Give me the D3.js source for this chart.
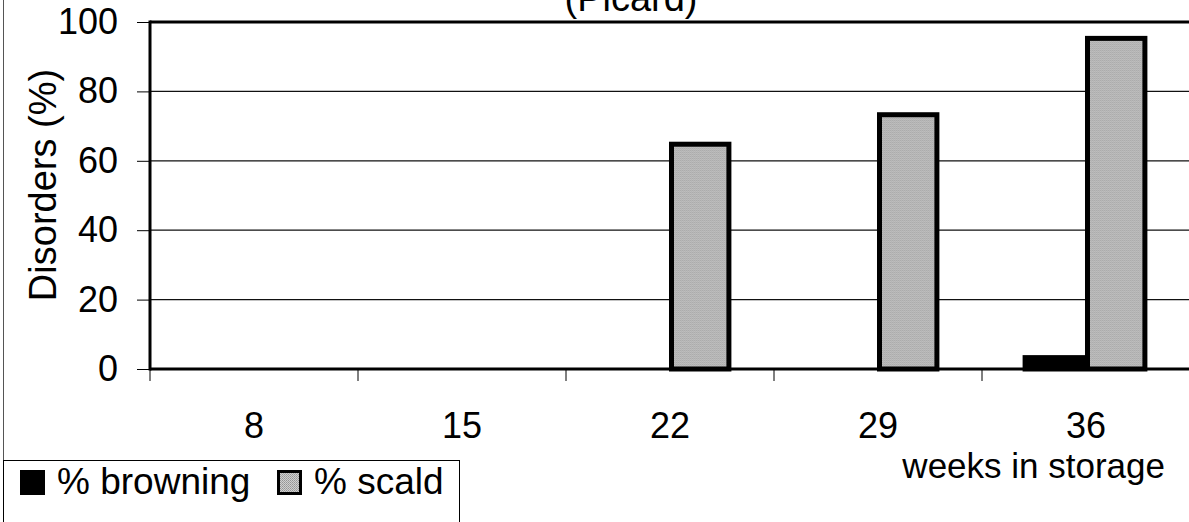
<!DOCTYPE html>
<html>
<head>
<meta charset="utf-8">
<script src="https://cdn.jsdelivr.net/npm/d3@7"></script>
<style>
  body { margin: 0; background: #fff; }
  svg { display: block; font-family: "Liberation Sans", Arial, sans-serif; }
</style>
</head>
<body>
<div id="chart"></div>
<script>
// chart values
const weeks = ['8', '15', '22', '29', '36'];
const seriesNames = ['% browning', '% scald'];
const browning = [0, 0, 0, 0, 4];
const scald = [0, 0, 65.5, 74, 96];
const yTicks = [0, 20, 40, 60, 80, 100];

const width = 1189, height = 522;
const margin = {top: 22, right: -1, bottom: 153, left: 150};
const plotW = width - margin.left - margin.right;
const plotH = height - margin.top - margin.bottom;

const svg = d3.select('#chart').append('svg')
    .attr('width', width)
    .attr('height', height);

// stippled grey fill like the scanned print
const defs = svg.append('defs');
const pat = defs.append('pattern')
    .attr('id', 'stipple')
    .attr('width', 2).attr('height', 2)
    .attr('patternUnits', 'userSpaceOnUse');
pat.append('rect').attr('width', 2).attr('height', 2).attr('fill', '#cfcfcf');
pat.append('rect').attr('width', 1).attr('height', 1).attr('fill', '#949494');
pat.append('rect').attr('x', 1).attr('y', 1).attr('width', 1).attr('height', 1).attr('fill', '#a4a4a4');

const colors = {'% browning': '#000', '% scald': 'url(#stipple)'};

// outer frame line on the left
svg.append('line')
    .attr('x1', 3.5).attr('x2', 3.5)
    .attr('y1', 0).attr('y2', height)
    .attr('stroke', '#555').attr('stroke-width', 1);

const g = svg.append('g')
    .attr('transform', 'translate(' + margin.left + ',' + margin.top + ')');

const xScale = d3.scaleBand().domain(weeks).range([0, plotW]).paddingInner(0.4).paddingOuter(0.2);
const xSub = d3.scaleBand().domain(seriesNames).range([0, xScale.bandwidth()]);
const yScale = d3.scaleLinear().domain([0, 100]).range([plotH, 0]);

// gridlines
g.selectAll('.grid')
    .data(yTicks.filter(d => d > 0 && d < 100))
    .join('line')
    .attr('class', 'grid')
    .attr('x1', 0).attr('x2', plotW)
    .attr('y1', d => yScale(d)).attr('y2', d => yScale(d))
    .attr('stroke', '#111').attr('stroke-width', 1.2);

// top border of plot
g.append('line')
    .attr('x1', 0).attr('x2', plotW)
    .attr('y1', yScale(100)).attr('y2', yScale(100))
    .attr('stroke', '#000').attr('stroke-width', 3);

// y axis
const yAxis = d3.axisLeft(yScale).tickValues(yTicks).tickSize(13).tickPadding(19);
const yg = g.append('g').call(yAxis);
yg.select('.domain').remove();
yg.selectAll('.tick line').attr('stroke', '#000').attr('stroke-width', 1);
yg.selectAll('.tick text')
    .attr('font-size', '36px')
    .attr('fill', '#000')
    .attr('font-family', '"Liberation Sans", Arial, sans-serif');

// x axis ticks at category boundaries
const bounds = d3.range(weeks.length).map(i => xScale.step() * i);
g.selectAll('.xtick')
    .data(bounds)
    .join('line')
    .attr('class', 'xtick')
    .attr('x1', d => d).attr('x2', d => d)
    .attr('y1', plotH).attr('y2', plotH + 12)
    .attr('stroke', '#000').attr('stroke-width', 1);

g.selectAll('.xlabel')
    .data(weeks)
    .join('text')
    .attr('class', 'xlabel')
    .attr('x', d => xScale(d) + xScale.bandwidth() / 2)
    .attr('y', plotH + 69)
    .attr('text-anchor', 'middle')
    .attr('font-size', '36px')
    .text(d => d);

// bars
const rows = weeks.map((w, i) => ({week: w, values: [
    {name: '% browning', value: browning[i]},
    {name: '% scald', value: scald[i]}
]}));

const sw = 5;
g.selectAll('.group')
    .data(rows)
    .join('g')
    .attr('class', 'group')
    .attr('transform', d => 'translate(' + xScale(d.week) + ',0)')
    .selectAll('rect')
    .data(d => d.values.filter(v => v.value > 0))
    .join('rect')
    .attr('x', d => xSub(d.name) + sw / 2 - 1)
    .attr('width', xSub.bandwidth() - sw)
    .attr('y', d => yScale(d.value) + sw / 2)
    .attr('height', d => Math.max(0, yScale(0) - yScale(d.value) - sw / 2))
    .attr('fill', d => colors[d.name])
    .attr('stroke', '#000')
    .attr('stroke-width', sw);

// left axis line and baseline
g.append('line')
    .attr('x1', 0).attr('x2', 0)
    .attr('y1', yScale(100) - 1.5).attr('y2', plotH + 1.5)
    .attr('stroke', '#000').attr('stroke-width', 3);
g.append('line')
    .attr('x1', 0).attr('x2', plotW)
    .attr('y1', plotH).attr('y2', plotH)
    .attr('stroke', '#000').attr('stroke-width', 3);

// titles (top of the title is cut off in the original scan)
svg.append('text')
    .attr('x', 631).attr('y', 11)
    .attr('text-anchor', 'middle')
    .attr('font-size', '38px')
    .text('(Picard)');

svg.append('text')
    .attr('transform', 'translate(56,' + 185 + ') rotate(-90)')
    .attr('text-anchor', 'middle')
    .attr('font-size', '38px')
    .text('Disorders (%)');

svg.append('text')
    .attr('x', 1165).attr('y', 478)
    .attr('text-anchor', 'end')
    .attr('font-size', '35px')
    .text('weeks in storage');

// legend
const legend = svg.append('g').attr('class', 'legend');
legend.append('rect')
    .attr('x', 3.5).attr('y', 460.5)
    .attr('width', 456).attr('height', 70)
    .attr('fill', '#fff').attr('stroke', '#000').attr('stroke-width', 1);

const legendX = [20, 277];
seriesNames.forEach((name, i) => {
    legend.append('rect')
        .attr('x', legendX[i] + 1.5).attr('y', 471.5)
        .attr('width', 22).attr('height', 22)
        .attr('fill', colors[name])
        .attr('stroke', '#000').attr('stroke-width', 3);
    legend.append('text')
        .attr('x', legendX[i] + 37).attr('y', 494)
        .attr('font-size', '37px')
        .text(name);
});
</script>
</body>
</html>
